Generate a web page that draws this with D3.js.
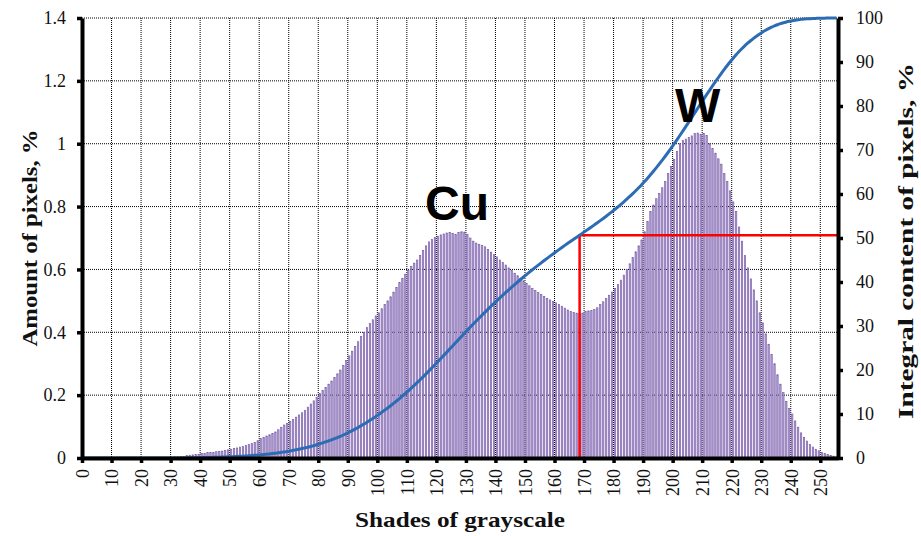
<!DOCTYPE html>
<html>
<head>
<meta charset="utf-8">
<script src="https://cdn.jsdelivr.net/npm/d3@7/dist/d3.min.js"></script>
<style>
  html, body { margin: 0; padding: 0; background: #fff; }
  svg { display: block; }
  .tick text { font-family: "Liberation Serif", "Times New Roman", serif; font-size: 18px; fill: #111; }
</style>
</head>
<body>
<svg id="chart" width="921" height="536"></svg>
<script>
// Histogram of grayscale shades (0..255): share of pixels per shade, %
const pixelShare = [
  // 0-29
  0,0,0,0,0,0,0,0,0,0, 0,0,0,0,0,0,0,0,0,0, 0,0,0,0,0,0,0,0,0,0,
  // 30-39
  0.002,0.003,0.003,0.004,0.005,0.008,0.009,0.010,0.011,0.012,
  // 40-49
  0.014,0.015,0.017,0.018,0.018,0.020,0.021,0.022,0.024,0.026,
  // 50-59
  0.028,0.030,0.032,0.035,0.037,0.040,0.043,0.046,0.050,0.055,
  // 60-69
  0.062,0.066,0.070,0.074,0.078,0.083,0.090,0.098,0.105,0.110,
  // 70-79
  0.116,0.122,0.130,0.137,0.144,0.152,0.162,0.172,0.182,0.193,
  // 80-89
  0.205,0.215,0.225,0.235,0.245,0.256,0.268,0.280,0.295,0.310,
  // 90-99
  0.325,0.340,0.355,0.370,0.386,0.400,0.415,0.428,0.440,0.452,
  // 100-109
  0.462,0.475,0.488,0.500,0.513,0.528,0.543,0.558,0.572,0.585,
  // 110-119
  0.598,0.610,0.620,0.630,0.645,0.660,0.675,0.688,0.696,0.702,
  // 120-129
  0.706,0.710,0.713,0.716,0.718,0.715,0.712,0.718,0.720,0.719,
  // 130-139
  0.712,0.700,0.690,0.684,0.680,0.676,0.672,0.664,0.655,0.647,
  // 140-149
  0.640,0.630,0.622,0.614,0.605,0.596,0.588,0.580,0.572,0.564,
  // 150-159
  0.556,0.548,0.540,0.533,0.526,0.520,0.514,0.508,0.503,0.498,
  // 160-169
  0.494,0.489,0.483,0.477,0.471,0.466,0.463,0.461,0.460,0.461,
  // 170-179
  0.466,0.468,0.469,0.472,0.478,0.488,0.497,0.507,0.518,0.528,
  // 180-189
  0.540,0.552,0.566,0.582,0.600,0.618,0.638,0.656,0.675,0.694,
  // 190-199
  0.720,0.752,0.785,0.805,0.825,0.842,0.860,0.880,0.905,0.928,
  // 200-209
  0.950,0.975,1.000,1.010,1.015,1.020,1.025,1.032,1.034,1.030,
  // 210-219
  1.032,1.026,1.000,0.985,0.970,0.952,0.935,0.905,0.880,0.850,
  // 220-229
  0.815,0.785,0.735,0.690,0.645,0.605,0.570,0.535,0.500,0.462,
  // 230-239
  0.430,0.395,0.362,0.330,0.300,0.265,0.235,0.208,0.180,0.158,
  // 240-249
  0.140,0.118,0.098,0.080,0.066,0.054,0.043,0.035,0.028,0.023,
  // 250-255
  0.018,0.014,0.011,0.008,0.006,0.004
];
const shades = d3.range(pixelShare.length);

const xTicks = d3.range(0, 251, 10);
const leftTicks = [0, 0.2, 0.4, 0.6, 0.8, 1, 1.2, 1.4];
const leftTickLabels = ["0", "0.2", "0.4", "0.6", "0.8", "1", "1.2", "1.4"];
const rightTicks = d3.range(0, 101, 10);

const thresholdShade = 168;           // shade where the red guide is drawn
const peakLabels = [
  { text: "Cu", shade: 127, level: 0.757 },
  { text: "W",  shade: 208.5, level: 1.07 }
];

// Integral content: running sum of the histogram, %
const integral = d3.cumsum(pixelShare);

const svg = d3.select("#chart");
const plotLeft = 82, plotRight = 838, plotTop = 18, plotBottom = 458;

const x = d3.scaleLinear().domain([0, 256]).range([plotLeft, plotRight]);
const yL = d3.scaleLinear().domain([0, 1.4]).range([plotBottom, plotTop]);
const yR = d3.scaleLinear().domain([0, 100]).range([plotBottom, plotTop]);

// grid
const grid = svg.append("g").attr("stroke", "#000").attr("stroke-width", 1)
  .attr("stroke-dasharray", "1,1");
grid.selectAll("line.v").data(xTicks.filter(d => d > 0)).join("line").attr("class", "v")
  .attr("x1", d => x(d)).attr("x2", d => x(d)).attr("y1", plotTop).attr("y2", plotBottom);
grid.selectAll("line.h").data(leftTicks.filter(d => d > 0)).join("line").attr("class", "h")
  .attr("x1", plotLeft).attr("x2", plotRight).attr("y1", d => yL(d)).attr("y2", d => yL(d));

// histogram bars
svg.append("g").selectAll("rect").data(shades).join("rect")
  .attr("x", d => x(d + 0.5) - 0.7)
  .attr("width", 1.4)
  .attr("y", d => yL(pixelShare[d]))
  .attr("height", d => yL(0) - yL(pixelShare[d]))
  .attr("fill", "#b09dd2")
  .attr("stroke", "#7458a6")
  .attr("stroke-width", 0.6);

// red guide at the threshold shade
const tx = x(thresholdShade + 0.5), ty = yR(integral[thresholdShade]);
svg.append("path")
  .attr("d", `M${tx},${plotBottom}V${ty}H${plotRight}`)
  .attr("fill", "none").attr("stroke", "#ff0000").attr("stroke-width", 2.5);

// integral curve
const line = d3.line()
  .x(d => d[0]).y(d => d[1]).curve(d3.curveMonotoneX);
const curvePts = [[x(0), yR(0)]].concat(shades.map(s => [x(s + 0.5), yR(integral[s])]));
svg.append("path").attr("d", line(curvePts))
  .attr("fill", "none").attr("stroke", "#2c6cb4").attr("stroke-width", 3);

// axes
function styleAxis(g) {
  g.select(".domain").attr("stroke", "#000").attr("stroke-width", 4);
  g.selectAll(".tick line").attr("stroke", "#000").attr("stroke-width", 3.5);
  g.selectAll("text").attr("font-family", null).attr("font-size", null);
}
svg.append("g").attr("transform", `translate(${plotLeft},0)`)
  .call(d3.axisLeft(yL).tickValues(leftTicks)
    .tickFormat((d, i) => leftTickLabels[i]).tickSize(5).tickSizeOuter(0).tickPadding(11))
  .call(styleAxis);

svg.append("g").attr("transform", `translate(${plotRight},0)`)
  .call(d3.axisRight(yR).tickValues(rightTicks).tickSize(5).tickSizeOuter(0).tickPadding(13))
  .call(styleAxis);

svg.append("g").attr("transform", `translate(0,${plotBottom})`)
  .call(d3.axisBottom(x).tickValues(xTicks).tickSize(5).tickSizeOuter(0))
  .call(styleAxis)
  .call(g => g.selectAll("text")
    .attr("transform", "rotate(-90)").attr("x", -11).attr("y", 0)
    .attr("dy", "0.35em").attr("text-anchor", "end"));

// titles
const titleFont = "'Liberation Serif', 'Times New Roman', serif";
function title(sel, length) {
  return sel.attr("text-anchor", "middle")
    .attr("font-family", titleFont).attr("font-weight", "bold").attr("font-size", 22)
    .attr("fill", "#111").attr("textLength", length).attr("lengthAdjust", "spacingAndGlyphs");
}
svg.append("text").attr("x", 460).attr("y", 527).call(title, 210).text("Shades of grayscale");
svg.append("text").attr("transform", "translate(37,238) rotate(-90)").call(title, 217)
  .text("Amount of pixels, %");
svg.append("text").attr("transform", "translate(913,241) rotate(-90)").call(title, 356)
  .text("Integral content of pixels, %");

// peak labels
svg.append("g").selectAll("text").data(peakLabels).join("text")
  .attr("x", d => x(d.shade)).attr("y", d => yL(d.level))
  .attr("text-anchor", "middle")
  .attr("font-family", "'Liberation Sans', Arial, sans-serif").attr("font-weight", "bold")
  .attr("font-size", 48).attr("fill", "#000")
  .text(d => d.text);
</script>
</body>
</html>
